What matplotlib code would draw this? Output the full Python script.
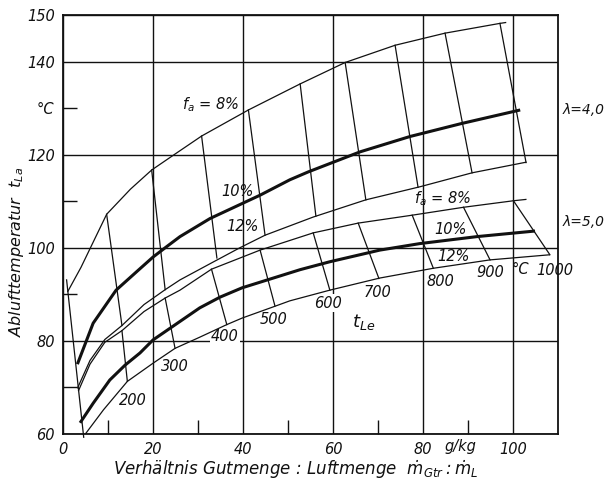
import matplotlib
matplotlib.use("Agg")
import matplotlib.pyplot as plt

# Ablufttemperatur t_La over Verhaeltnis m_Gtr : m_L  (g/kg -> degC)
# lambda = 4,0  family
l4_f8_x = [1.0, 4.0, 6.0, 9.7, 15.0, 19.7, 25.0, 30.8, 41.2, 52.7, 62.7, 73.8, 84.9, 97.1, 98.5]
l4_f8_y = [90.5, 95.8, 99.8, 107.2, 112.6, 116.7, 120.2, 124.0, 129.6, 135.2, 139.8, 143.5, 146.1, 148.2, 148.4]

l4_f10_x = [3.2, 6.7, 11.8, 17.1, 20.0, 22.7, 26.0, 32.7, 43.8, 50.4, 54.5, 66.0, 77.1, 88.6, 101.6]
l4_f10_y = [75.0, 83.8, 90.9, 95.5, 98.0, 100.0, 102.4, 106.3, 111.3, 114.6, 116.3, 120.6, 123.9, 126.7, 129.6]

l4_f12_x = [3.2, 6.0, 9.3, 13.1, 18.0, 22.7, 26.0, 33.3, 39.3, 44.9, 55.6, 67.3, 79.3, 90.9, 103.0]
l4_f12_y = [69.8, 75.8, 80.3, 83.3, 87.8, 91.0, 93.1, 96.9, 100.0, 102.7, 106.6, 110.3, 113.1, 116.1, 118.4]

# lambda = 5,0  family
l5_f8_x = [3.4, 6.0, 9.3, 13.1, 18.0, 22.7, 26.0, 33.0, 43.8, 55.6, 65.6, 77.6, 89.0, 100.1, 103.0]
l5_f8_y = [69.2, 75.0, 79.7, 82.2, 86.3, 89.2, 90.9, 95.4, 99.5, 103.2, 105.3, 107.0, 108.7, 110.1, 110.4]

l5_f10_x = [3.8, 6.7, 10.4, 13.8, 17.1, 20.0, 30.4, 34.9, 39.8, 52.7, 59.3, 70.4, 79.3, 92.0, 104.9]
l5_f10_y = [62.4, 66.6, 71.6, 74.8, 77.4, 80.2, 87.1, 89.4, 91.4, 95.3, 97.0, 99.5, 100.9, 102.4, 103.6]

l5_f12_x = [4.5, 9.0, 14.3, 20.0, 24.9, 30.4, 36.4, 39.8, 46.7, 50.4, 59.3, 70.4, 82.3, 94.9, 108.2]
l5_f12_y = [59.4, 65.2, 71.3, 75.2, 78.4, 80.8, 83.5, 84.9, 87.3, 88.6, 90.9, 93.5, 95.6, 97.4, 98.5]

# Lufteintrittstemperatur t_Le (degC): isolines from f_a = 8 % to f_a = 12 %
t_le = [200, 300, 400, 500, 600, 700, 800, 900, 1000]

l4_iso_x0 = [9.7, 19.7, 30.8, 41.2, 52.7, 62.7, 73.8, 84.9, 97.1]
l4_iso_y0 = [107.2, 116.7, 124.0, 129.6, 135.2, 139.8, 143.5, 146.1, 148.2]
l4_iso_x1 = [13.1, 22.7, 34.2, 44.9, 56.2, 67.3, 78.9, 90.9, 102.9]
l4_iso_y1 = [83.3, 91.0, 97.8, 102.7, 106.8, 110.3, 113.0, 116.1, 118.3]

l5_iso_x0 = [13.1, 22.7, 33.0, 43.8, 55.6, 65.6, 77.6, 89.0, 100.1]
l5_iso_y0 = [82.2, 89.2, 95.4, 99.5, 103.2, 105.3, 107.0, 108.7, 110.1]
l5_iso_x1 = [14.3, 24.9, 36.4, 47.1, 59.3, 70.2, 82.3, 94.9, 108.2]
l5_iso_y1 = [71.3, 78.4, 83.5, 87.5, 90.9, 93.4, 95.6, 97.4, 98.5]

# left boundary where the curves begin
grenz_x = [0.8, 4.6]
grenz_y = [93.1, 59.3]

x_ticks = [0, 20, 40, 60, 80, 100]
x_ticklabels = ["0", "20", "40", "60", "80", "100"]
x_minor = [10, 30, 50, 70, 90]
y_ticks = [60, 80, 100, 120, 140, 150]
y_ticklabels = ["60", "80", "100", "120", "140", "150"]
y_minor = [70, 90, 110, 130]
y_minorlabels = ["", "", "", "°C"]

plt.rcParams["font.family"] = ["DejaVu Sans"]
plt.rcParams["font.style"] = "italic"
plt.rcParams["mathtext.fontset"] = "dejavusans"

fig = plt.figure(figsize=(6.08, 4.87), dpi=100)
ax = fig.add_axes([63 / 608, 53 / 487, 495 / 608, 419 / 487])
ax.set_xlim(0, 110)
ax.set_ylim(60, 150)

ink = "#111111"
thin = 0.9
thick = 2.2

ax.set_xticks(x_ticks, labels=x_ticklabels)
ax.set_xticks(x_minor, minor=True)
ax.set_yticks(y_ticks, labels=y_ticklabels)
ax.set_yticks(y_minor, labels=y_minorlabels, minor=True)
ax.tick_params(which="major", length=0, labelsize=10.5, pad=6, colors=ink)
ax.tick_params(which="minor", direction="in", length=10, width=1.0, labelsize=10.5, pad=6, colors=ink)
ax.grid(which="major", color=ink, linewidth=1.0, zorder=0.5)
ax.set_axisbelow(True)
for s in ax.spines.values():
    s.set_linewidth(1.3)
    s.set_color(ink)

# curves
for xs, ys, lw in [
    (l4_f8_x, l4_f8_y, thin), (l4_f10_x, l4_f10_y, thick), (l4_f12_x, l4_f12_y, thin),
    (l5_f8_x, l5_f8_y, thin), (l5_f10_x, l5_f10_y, thick), (l5_f12_x, l5_f12_y, thin),
]:
    ax.plot(xs, ys, color=ink, lw=lw, solid_capstyle="butt", zorder=3)

# t_Le isolines
for i in range(len(t_le)):
    ax.plot([l4_iso_x0[i], l4_iso_x1[i]], [l4_iso_y0[i], l4_iso_y1[i]], color=ink, lw=thin, zorder=3)
    ax.plot([l5_iso_x0[i], l5_iso_x1[i]], [l5_iso_y0[i], l5_iso_y1[i]], color=ink, lw=thin, zorder=3)

ax.plot(grenz_x, grenz_y, color=ink, lw=thin, zorder=3, clip_on=False)

# labels of the isolines
label_pos = [(15.6, 67.3), (24.9, 74.6), (36.0, 80.9), (46.7, 84.5), (58.9, 88.1),
             (70.0, 90.5), (83.8, 92.7), (94.9, 94.6), (109.3, 95.2)]
white = dict(facecolor="white", edgecolor="none", pad=1.0)
for val, (lx, ly) in zip(t_le, label_pos):
    ax.text(lx, ly, str(val), fontsize=10.5, ha="center", va="center", color=ink,
            bbox=white, zorder=2)
ax.text(101.6, 95.3, "°C", fontsize=10.5, ha="center", va="center", color=ink, zorder=2)
ax.text(66.7, 84.0, "$t_{Le}$", fontsize=13, ha="center", va="center", color=ink,
        bbox=white, zorder=2)

# f_a labels
ax.text(32.7, 130.8, "$f_a$ = 8%", fontsize=10.5, ha="center", va="center", color=ink,
        bbox=white, zorder=2)
ax.text(38.7, 112.0, "10%", fontsize=10.5, ha="center", va="center", color=ink, zorder=2)
ax.text(39.8, 104.5, "12%", fontsize=10.5, ha="center", va="center", color=ink, zorder=2)
ax.text(84.4, 110.5, "$f_a$ = 8%", fontsize=10.5, ha="center", va="center", color=ink, zorder=2)
ax.text(86.0, 104.0, "10%", fontsize=10.5, ha="center", va="center", color=ink, zorder=2)
ax.text(86.7, 98.2, "12%", fontsize=10.5, ha="center", va="center", color=ink, zorder=2)

# lambda labels on the right
ax.text(111.0, 129.6, "λ=4,0", fontsize=10, ha="left", va="center", color=ink)
ax.text(111.0, 105.5, "λ=5,0", fontsize=10, ha="left", va="center", color=ink)

# unit next to the 80 tick
ax.text(88.4, -0.03, "g/kg", transform=ax.get_xaxis_transform(), fontsize=10.5,
        ha="center", va="center", color=ink)

fig.text(296 / 608, 1 - 470 / 487, "Verhältnis Gutmenge : Luftmenge  $\\dot{m}_{Gtr}:\\dot{m}_L$",
         fontsize=12, ha="center", va="center", color=ink)
fig.text(17 / 608, 1 - 252 / 487, "Ablufttemperatur  $t_{La}$", fontsize=11.5, rotation=90,
         ha="center", va="center", color=ink)

fig.savefig("out.png", dpi=100, facecolor="white")
